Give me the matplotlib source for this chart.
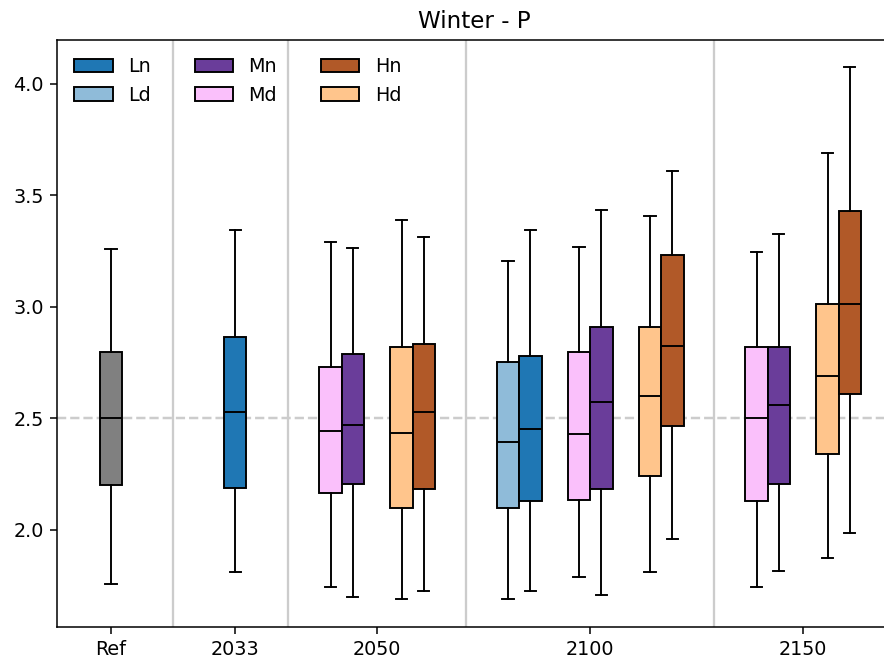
import matplotlib
matplotlib.use("Agg")
import matplotlib.pyplot as plt
from matplotlib.patches import Patch

# ---- data ----
group_labels = ["Ref", "2033", "2050", "2100", "2150"]
group_centers = [0.0, 1.75, 3.75, 6.75, 9.75]

box_group = ["Ref", "2033",
             "2050", "2050", "2050", "2050",
             "2100", "2100", "2100", "2100", "2100", "2100",
             "2150", "2150", "2150", "2150"]
box_kind = ["Ref", "Ln",
            "Md", "Mn", "Hd", "Hn",
            "Ld", "Ln", "Md", "Mn", "Hd", "Hn",
            "Md", "Mn", "Hd", "Hn"]
whislo = [1.76, 1.81,
          1.745, 1.70, 1.69, 1.725,
          1.69, 1.725, 1.79, 1.71, 1.81, 1.96,
          1.745, 1.815, 1.875, 1.985]
q1 = [2.20, 2.19,
      2.165, 2.205, 2.10, 2.185,
      2.10, 2.13, 2.135, 2.185, 2.24, 2.465,
      2.13, 2.205, 2.34, 2.61]
med = [2.50, 2.53,
       2.445, 2.47, 2.435, 2.53,
       2.395, 2.455, 2.43, 2.575, 2.60, 2.825,
       2.50, 2.56, 2.69, 3.015]
q3 = [2.80, 2.865,
      2.73, 2.79, 2.82, 2.835,
      2.755, 2.78, 2.80, 2.91, 2.91, 3.235,
      2.82, 2.82, 3.015, 3.43]
whishi = [3.26, 3.345,
          3.29, 3.265, 3.39, 3.315,
          3.205, 3.345, 3.27, 3.435, 3.41, 3.61,
          3.245, 3.325, 3.69, 4.075]

legend_labels = ["Ln", "Ld", "Mn", "Md", "Hn", "Hd"]
colors = {"Ref": "#808080",
          "Ln": "#1f77b4", "Ld": "#8fbbd9",
          "Mn": "#6a3d9a", "Md": "#fac0fb",
          "Hn": "#b15928", "Hd": "#ffc58c"}
ref_line = 2.5

# ---- layout ----
box_w = 0.315
pair_gap = 1.0

fig = plt.figure(figsize=(884 / 138, 659 / 138), dpi=138)
ax = fig.add_axes([57 / 884, 32 / 659, 835 / 884, 587 / 659])

# compute positions
positions = []
group_extent = {}
for g, gc in zip(group_labels, group_centers):
    kinds = [kk for gg, kk in zip(box_group, box_kind) if gg == g]
    letters = []
    for kk in kinds:
        if kk[0] not in letters:
            letters.append(kk[0])
    n = len(letters) if len(kinds) > 1 else 1
    group_extent[g] = (gc - n * pair_gap / 2, gc + n * pair_gap / 2)

for g, k in zip(box_group, box_kind):
    gc = group_centers[group_labels.index(g)]
    kinds = [kk for gg, kk in zip(box_group, box_kind) if gg == g]
    if len(kinds) == 1:
        positions.append(gc)
        continue
    letters = []
    for kk in kinds:
        if kk[0] not in letters:
            letters.append(kk[0])
    i = letters.index(k[0])
    pc = gc + (i - (len(letters) - 1) / 2) * pair_gap
    positions.append(pc + (-box_w / 2 if k[1] == "d" else box_w / 2))

stats = []
for i in range(len(box_kind)):
    stats.append(dict(whislo=whislo[i], q1=q1[i], med=med[i], q3=q3[i],
                      whishi=whishi[i], fliers=[]))

bp = ax.bxp(stats, positions=positions, widths=box_w, patch_artist=True,
            showfliers=False,
            boxprops=dict(edgecolor="black", linewidth=1.0),
            medianprops=dict(color="black", linewidth=1.0),
            whiskerprops=dict(color="black", linewidth=1.0),
            capprops=dict(color="black", linewidth=1.0),
            manage_ticks=False)
for patch, k in zip(bp["boxes"], box_kind):
    patch.set_facecolor(colors[k])
    patch.set_zorder(3)
for key in ("medians", "whiskers", "caps"):
    for ln in bp[key]:
        ln.set_zorder(3)

# separators between groups
for gi in range(len(group_labels) - 1):
    x = (group_extent[group_labels[gi]][1] + group_extent[group_labels[gi + 1]][0]) / 2
    ax.axvline(x, color="#cccccc", linewidth=1.2, zorder=1)

ax.axhline(ref_line, color="#cccccc", linestyle="--", linewidth=1.3, zorder=1)

ax.set_xticks(group_centers)
ax.set_xticklabels(group_labels)
ax.set_xlim(-0.76, -0.76 + 835 / 71)
ax.set_ylim(1.565, 4.197)
ax.set_yticks([2.0, 2.5, 3.0, 3.5, 4.0])
ax.set_title("Winter - P")

handles = [Patch(facecolor=colors[l], edgecolor="black") for l in legend_labels]
ax.legend(handles, legend_labels, loc="upper left", ncol=3, frameon=False,
          columnspacing=2.3)

fig.savefig("out.png", dpi=138)
